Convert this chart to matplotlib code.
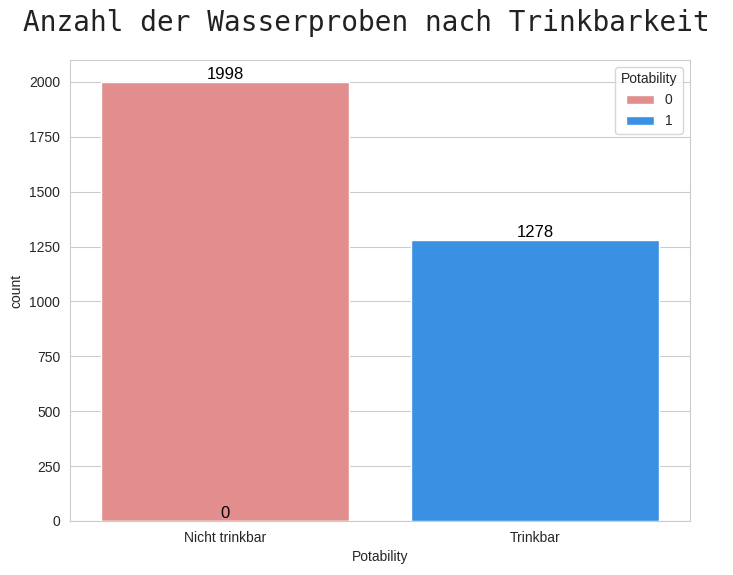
import colorsys
import matplotlib
matplotlib.use('Agg')
import matplotlib.pyplot as plt
import matplotlib.colors as mcolors
import seaborn as sns

categories = ['Nicht trinkbar', 'Trinkbar']
hue_levels = ['0', '1']
counts_0 = [1998]        # Potability 0 -> category 0
counts_1 = [0, 1278]     # Potability 1 -> categories 0, 1

def desat(c, s=0.75):
	r, g, b = mcolors.to_rgb(c)
	h, l, sat = colorsys.rgb_to_hls(r, g, b)
	return colorsys.hls_to_rgb(h, l, sat * s)

sns.set_style('whitegrid')
plt.rcParams['font.family'] = ['Liberation Sans', 'DejaVu Sans']

fig = plt.figure(figsize=(7.33, 5.75), dpi=100)
ax = fig.add_axes([70/733, 54/575, 620/733, 461/575])

colors = [desat('lightcoral'), desat('dodgerblue')]
c0 = ax.bar(range(len(counts_0)), counts_0, width=0.8, color=colors[0], label=hue_levels[0])
c1 = ax.bar(range(len(counts_1)), counts_1, width=0.8, color=colors[1], label=hue_levels[1])
for c in (c0, c1):
	ax.bar_label(c, fontsize=12, color='black')

ax.set_xticks(range(len(categories)))
ax.set_xticklabels(categories)
ax.set_xlim(-0.5, 1.5)
ax.set_ylim(0, 2100)
ax.set_xlabel('Potability')
ax.set_ylabel('count')
ax.grid(axis='x', visible=False)
ax.legend(title='Potability', loc='upper right')
fig.suptitle('Anzahl der Wasserproben nach Trinkbarkeit', fontsize=20,
	family='DejaVu Sans Mono', color='#222222', y=0.985)

plt.savefig('out.png')
